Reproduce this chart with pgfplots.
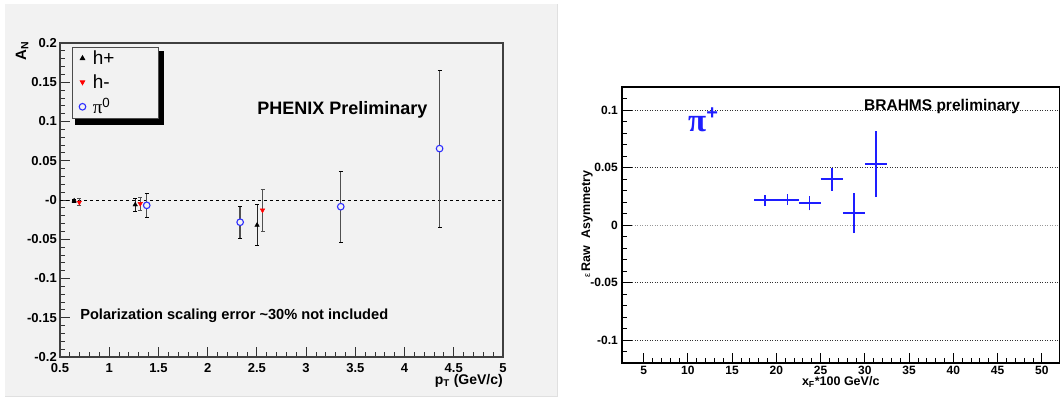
\documentclass[border=0pt]{standalone}
\usepackage{pgfplots}
\pgfplotsset{compat=1.18}
\usepackage{fontspec}
\setmainfont{Liberation Sans}
\newfontfamily\serifgr{Liberation Serif}
\definecolor{panelgrey}{HTML}{F2F2F2}
\definecolor{pizero}{HTML}{2E2EFF}
\definecolor{brblue}{HTML}{1E1EFF}
\definecolor{barg}{HTML}{505050}
\newcommand{\legtext}[1]{\makebox[62pt][l]{#1}}
\begin{document}
\begin{tikzpicture}[x=1pt,y=1pt]
\path[use as bounding box] (0,0) rectangle (1060,400);

% ---------------- right: BRAHMS ----------------
\begin{axis}[
  at={(622pt,37pt)}, anchor=south west, scale only axis,
  width=437.5pt, height=276pt,
  xmin=2.55, xmax=52, ymin=-0.12, ymax=0.12,
  axis line style={black, line width=1.6pt},
  tick align=inside, tick pos=left,
  tick style={black, line width=0.9pt},
  major tick length=10pt, minor tick length=5pt,
  xtick={5,10,15,20,25,30,35,40,45,50},
  xticklabels={5,10,15,20,25,30,35,40,45,50},
  minor x tick num=4,
  ytick={-0.1,-0.05,0.05,0.1},
  yticklabels={-0.1,-0.05,0.05,0.1},
  minor ytick={-0.11,-0.09,-0.08,-0.07,-0.06,-0.04,-0.03,-0.02,-0.01,0.01,0.02,0.03,0.04,0.06,0.07,0.08,0.09,0.11},
  extra y ticks={0}, extra y tick labels={0},
  extra y tick style={major grid style={black!40, line width=0.9pt, dash pattern=on 0.9pt off 1.6pt}},
  ymajorgrids,
  major grid style={black!80, line width=0.9pt, dash pattern=on 0.9pt off 1.6pt},
  xticklabel style={font=\fontsize{12}{12}\selectfont\bfseries, anchor=base, inner sep=0pt, yshift=-11.5pt},
  yticklabel style={font=\fontsize{12}{12}\selectfont\bfseries, anchor=east, inner sep=0pt, xshift=-4pt},
  xlabel={\bfseries x\textsubscript{F}*100 GeV/c},
  xlabel style={font=\fontsize{12.5}{12.5}\selectfont, at={(axis description cs:0.5,-0.083)}, anchor=base, inner sep=0pt},
  ylabel={{\fontsize{9}{9}\selectfont ε}\,\bfseries Raw\hspace{0.6em}Asymmetry},
  ylabel style={font=\fontsize{12.5}{12.5}\selectfont, at={(axis description cs:-0.08,0.504)}, anchor=center, inner sep=0pt},
]
% each bin: horizontal bar (bin width) and vertical bar (stat. error)
\addplot[brblue, line width=1.8pt, mark=none, unbounded coords=jump] coordinates {
  (17.5,0.0214) (20.0,0.0214) (nan,nan) (18.75,0.0164) (18.75,0.0264) (nan,nan)
  (20.0,0.0220) (22.5,0.0220) (nan,nan) (21.25,0.0172) (21.25,0.0268) (nan,nan)
  (22.5,0.0191) (25.0,0.0191) (nan,nan) (23.75,0.0127) (23.75,0.0255) (nan,nan)
  (25.0,0.0397) (27.5,0.0397) (nan,nan) (26.25,0.0297) (26.25,0.0497) (nan,nan)
  (27.5,0.0104) (30.0,0.0104) (nan,nan) (28.75,-0.0070) (28.75,0.0278) (nan,nan)
  (30.0,0.0528) (32.5,0.0528) (nan,nan) (31.25,0.0242) (31.25,0.0814)
};
\end{axis}
\node[anchor=base west, inner sep=0pt, font=\fontsize{15.5}{15.5}\selectfont\bfseries] at (864,290) {BRAHMS preliminary};
\node[anchor=base west, inner sep=0pt, text=brblue] at (688,268.3) {{\fontsize{33}{33}\selectfont\serifgr\bfseries π}\raisebox{12pt}{\fontsize{20}{20}\selectfont\bfseries +}};

% ---------------- left: PHENIX ----------------
\fill[panelgrey] (5,3) rectangle (558,396);
\draw[black!12, line width=1.2pt] (557.4,3) -- (557.4,396);
\draw[black!12, line width=1.2pt] (5,3.6) -- (558,3.6);
% legend shadow
\fill[black] (75.2,274.8) rectangle (163.7,349.2);

\begin{axis}[
  at={(60pt,43pt)}, anchor=south west, scale only axis,
  width=443pt, height=314pt,
  xmin=0.5, xmax=5, ymin=-0.2, ymax=0.2,
  axis line style={draw=black!75, line width=1.3pt},
  tick align=inside, tick pos=left,
  tick style={black!80, line width=0.9pt},
  major tick length=10pt, minor tick length=5pt,
  xtick={0.5,1,1.5,2,2.5,3,3.5,4,4.5,5},
  xticklabels={0.5,1,1.5,2,2.5,3,3.5,4,4.5,5},
  ytick={-0.2,-0.15,-0.1,-0.05,0,0.05,0.1,0.15,0.2},
  yticklabels={-0.2,-0.15,-0.1,-0.05,-0,0.05,0.1,0.15,0.2},
  minor x tick num=4, minor y tick num=4,
  xticklabel style={font=\fontsize{13}{13}\selectfont\bfseries, anchor=base, inner sep=0pt, yshift=-15pt},
  yticklabel style={font=\fontsize{13}{13}\selectfont\bfseries, anchor=east, inner sep=0pt, xshift=-3pt},
  xlabel={\bfseries p\textsubscript{T} (GeV/c)},
  xlabel style={font=\fontsize{14}{14}\selectfont, at={(axis description cs:1,-0.086)}, anchor=base east, inner sep=0pt},
  legend cell align=left,
  legend image code/.code={\path (0pt,0pt) (16pt,0pt); \draw[#1] plot coordinates {(7pt,0pt)};},
  legend style={at={(axis description cs:0.0264,0.9863)}, anchor=north west,
    draw=black!70, fill=panelgrey, line width=0.8pt,
    font=\fontsize{19}{19}\selectfont,
    inner xsep=3pt, inner ysep=2pt, row sep=6.5pt, nodes={inner sep=1pt}},
]
\addplot[black, dashed, line width=0.8pt, forget plot] coordinates {(0.5,0) (5,0)};

\addplot[only marks, mark=triangle*, mark size=2.6pt, black,
  error bars/.cd, y dir=both, y explicit, error mark=-,
  error mark options={rotate=90, mark size=2pt, line width=0.8pt, draw=black},
  error bar style={line width=1pt, draw=black!85}]
  table[x=x, y=y, y error=ey] {
  x     y       ey
  0.644 -0.001  0.002
  1.264 -0.006  0.0085
  2.502 -0.032  0.026
};
\addlegendentry{\legtext{h+}}

\addplot[only marks, mark=triangle*, mark size=2.6pt, red, fill=red,
  mark options={rotate=180, red, fill=red},
  error bars/.cd, y dir=both, y explicit, error mark=-,
  error mark options={rotate=90, mark size=2pt, line width=0.8pt, draw=barg},
  error bar style={line width=1pt, draw=barg}]
  table[x=x, y=y, y error=ey] {
  x     y       ey
  0.696 -0.003  0.0045
  1.315 -0.0047 0.0085
  2.557 -0.013  0.027
};
\addlegendentry{\legtext{h-}}

\addplot[only marks, mark=*, mark size=3.3pt, pizero,
  mark options={draw=pizero, fill=panelgrey, line width=1.1pt},
  error bars/.cd, y dir=both, y explicit, error mark=-,
  error mark options={rotate=90, mark size=2pt, line width=0.8pt, draw=black},
  error bar style={line width=1.4pt, draw=barg}]
  table[x=x, y=y, y error=ey] {
  x     y       ey
  1.381 -0.0068 0.015
  2.330 -0.0283 0.020
  3.352 -0.0085 0.045
  4.356  0.0655 0.100
};
\addlegendentry{\legtext{{\serifgr π}\textsuperscript{0}}}
\end{axis}

\node[anchor=base, inner sep=0pt, font=\fontsize{18}{18}\selectfont\bfseries] at (342.4,285.7) {PHENIX Preliminary};
\node[anchor=base west, inner sep=0pt, font=\fontsize{14.6}{14.6}\selectfont\bfseries] at (80.1,80.7) {Polarization scaling error \textasciitilde30\% not included};
\node[anchor=east, rotate=90, inner sep=0pt, font=\fontsize{15}{15}\selectfont\bfseries] at (22,359) {A\textsubscript{N}};
\end{tikzpicture}
\end{document}
